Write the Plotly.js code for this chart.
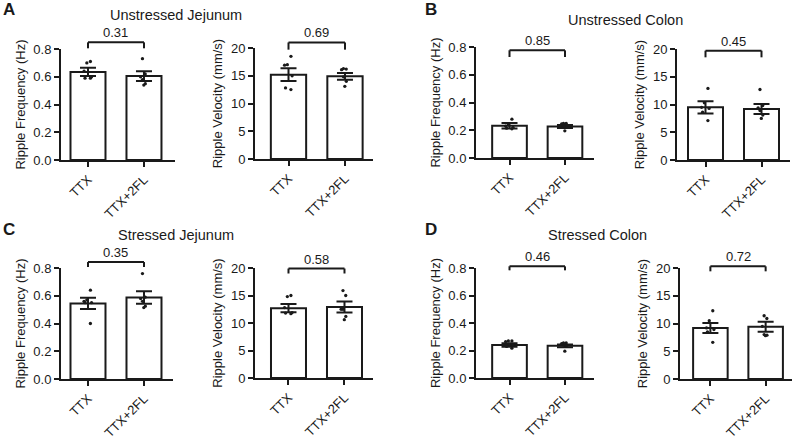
<!DOCTYPE html>
<html>
<head>
<meta charset="utf-8">
<script src="https://cdn.plot.ly/plotly-3.0.1.min.js"></script>
<style>html,body{margin:0;padding:0;background:#fff}#chart{width:798px;height:439px}</style>
</head>
<body>
<div id="chart"></div>
<script>
// ---------- data ----------
const categories = ["TTX", "TTX+2FL"];
// panel order: A-freq, A-vel, B-freq, B-vel, C-freq, C-vel, D-freq, D-vel
const panelTitlesY = ["Ripple Frequency (Hz)", "Ripple Velocity (mm/s)",
                      "Ripple Frequency (Hz)", "Ripple Velocity (mm/s)",
                      "Ripple Frequency (Hz)", "Ripple Velocity (mm/s)",
                      "Ripple Frequency (Hz)", "Ripple Velocity (mm/s)"];
const meanTTX   = [0.635, 15.2, 0.232, 9.5, 0.545, 12.7, 0.240, 9.2];
const mean2FL   = [0.605, 14.9, 0.227, 9.2, 0.587, 12.9, 0.234, 9.4];
const semTTX    = [0.030, 1.15, 0.020, 1.1, 0.040, 0.75, 0.012, 0.9];
const sem2FL    = [0.035, 0.60, 0.010, 0.9, 0.045, 1.00, 0.010, 0.9];
const pointsTTX = [
  [0.71, 0.70, 0.64, 0.60, 0.59, 0.59],
  [18.5, 16.9, 17.0, 15.0, 12.8, 12.5],
  [0.28, 0.23, 0.22, 0.215, 0.21, 0.24],
  [12.9, 10.3, 9.5, 9.3, 8.6, 7.1],
  [0.64, 0.57, 0.56, 0.55, 0.55, 0.40],
  [15.0, 14.8, 12.8, 11.9, 11.8, 11.7],
  [0.27, 0.27, 0.265, 0.24, 0.23, 0.217],
  [12.3, 10.5, 9.2, 8.9, 8.5, 6.6]
];
const points2FL = [
  [0.73, 0.62, 0.60, 0.58, 0.55, 0.54],
  [16.3, 16.1, 16.2, 14.8, 14.0, 13.1],
  [0.25, 0.25, 0.245, 0.23, 0.22, 0.196],
  [12.7, 9.8, 9.4, 8.9, 8.1, 7.5],
  [0.76, 0.59, 0.58, 0.56, 0.525, 0.515],
  [15.9, 15.0, 12.5, 12.5, 11.2, 10.6],
  [0.255, 0.255, 0.25, 0.24, 0.235, 0.195],
  [11.4, 10.9, 9.5, 8.0, 7.9, 7.8]
];
const pValues    = ["0.31", "0.69", "0.85", "0.45", "0.35", "0.58", "0.46", "0.72"];
const bracketTop = [0.848, 21.0, 0.776, 19.7, 0.843, 19.9, 0.812, 20.3];
const bracketLeg = [0.805, 19.7, 0.728, 18.5, 0.807, 19.0, 0.783, 19.4];
const yMax       = [0.8, 20, 0.8, 20, 0.8, 20, 0.8, 20];
const yStep      = [0.2, 5, 0.2, 5, 0.2, 5, 0.2, 5];
const groupTitles = ["Unstressed Jejunum", "Unstressed Colon", "Stressed Jejunum", "Stressed Colon"];
const panelLetters = ["A", "B", "C", "D"];

// ---------- layout geometry (pixels) ----------
const W = 798, H = 439;
const xPix = [[61,175],[255,373],[476,594],[677,790],[61,173],[255,373],[476,594],[680,792]];
const yPix = [[49,160],[48,159],[47,158],[49,160],[268,379],[268,378],[268,378],[268,379]];
const xRanges = [[-0.482,1.554],[-0.593,1.496],[-0.604,1.523],[-0.509,1.509],
                 [-0.482,1.518],[-0.598,1.509],[-0.604,1.523],[-0.55,1.477]];
const titlePos = [[176,15],[625,20],[176,235],[597,235]];
const letterPos = [[9,10],[431,10],[9,229],[431,229]];

const INK = "#1a1a1a";
const FONT = "Liberation Sans, Arial, sans-serif";

const traces = [];
const layout = {
  width: W, height: H,
  margin: {l:0, r:0, t:0, b:0},
  paper_bgcolor: "#fff", plot_bgcolor: "rgba(0,0,0,0)",
  showlegend: false,
  font: {family: FONT, size: 13, color: INK},
  shapes: [], annotations: []
};

for (let i = 0; i < 8; i++) {
  const n = i === 0 ? "" : String(i + 1);
  const xa = "x" + n, ya = "y" + n;
  traces.push({
    type: "bar", x: categories, y: [meanTTX[i], mean2FL[i]],
    xaxis: xa, yaxis: ya, width: 0.625,
    marker: {color: "#fff", line: {color: INK, width: 2}},
    error_y: {type: "data", array: [semTTX[i], sem2FL[i]], color: INK, thickness: 2, width: 8},
    hoverinfo: "skip"
  });
  const bx = [], by = [];
  pointsTTX[i].forEach(v => { bx.push(categories[0]); by.push(v); });
  points2FL[i].forEach(v => { bx.push(categories[1]); by.push(v); });
  traces.push({
    type: "box", x: bx, y: by, xaxis: xa, yaxis: ya,
    boxpoints: "all", jitter: 0.55, pointpos: 0, width: 0.3,
    marker: {color: INK, size: 3.3},
    line: {color: "rgba(0,0,0,0)", width: 0}, fillcolor: "rgba(0,0,0,0)",
    hoverinfo: "skip"
  });
  layout["xaxis" + n] = {
    anchor: ya, domain: [xPix[i][0] / W, xPix[i][1] / W],
    type: "category", categoryorder: "array", categoryarray: categories,
    range: xRanges[i], showline: true, linewidth: 2, linecolor: INK,
    ticks: "outside", ticklen: 5, tickwidth: 2, tickcolor: INK,
    tickangle: -45, tickfont: {size: 13, color: INK},
    showgrid: false, zeroline: false, fixedrange: true
  };
  layout["yaxis" + n] = {
    anchor: xa, domain: [1 - yPix[i][1] / H, 1 - yPix[i][0] / H],
    range: [0, yMax[i]], dtick: yStep[i], tick0: 0,
    tickformat: yMax[i] < 1 ? ".1f" : "d",
    showline: true, linewidth: 2, linecolor: INK,
    ticks: "outside", ticklen: 5, tickwidth: 2, tickcolor: INK,
    tickfont: {size: 13, color: INK},
    showgrid: false, zeroline: false, fixedrange: true,
    title: {text: panelTitlesY[i], font: {size: 13, color: INK}, standoff: 5}
  };
  const yd = ya + " domain";
  const t = bracketTop[i] / yMax[i], l = bracketLeg[i] / yMax[i];
  const ln = {color: INK, width: 2};
  layout.shapes.push({type: "line", xref: xa, yref: yd, x0: 0, x1: 1, y0: t, y1: t, line: ln});
  layout.shapes.push({type: "line", xref: xa, yref: yd, x0: 0, x1: 0, y0: l, y1: t, line: ln});
  layout.shapes.push({type: "line", xref: xa, yref: yd, x0: 1, x1: 1, y0: l, y1: t, line: ln});
  layout.annotations.push({
    xref: xa, yref: yd, x: 0.5, y: t, yanchor: "bottom", xanchor: "center",
    text: pValues[i], showarrow: false, font: {size: 13, color: INK}, yshift: 0
  });
}

for (let g = 0; g < 4; g++) {
  layout.annotations.push({
    xref: "paper", yref: "paper", x: titlePos[g][0] / W, y: 1 - titlePos[g][1] / H,
    xanchor: "center", yanchor: "middle", text: groupTitles[g], showarrow: false,
    font: {size: 14.5, color: INK}
  });
  layout.annotations.push({
    xref: "paper", yref: "paper", x: letterPos[g][0] / W, y: 1 - letterPos[g][1] / H,
    xanchor: "center", yanchor: "middle", text: "<b>" + panelLetters[g] + "</b>", showarrow: false,
    font: {size: 17, color: INK}
  });
}

Plotly.newPlot("chart", traces, layout, {displayModeBar: false, staticPlot: true});
</script>
</body>
</html>
